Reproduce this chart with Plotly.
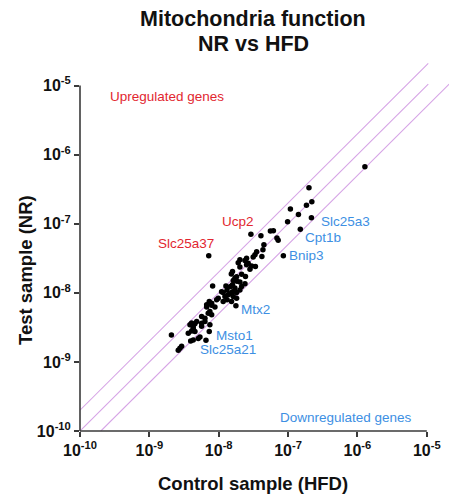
import numpy as np
import plotly.graph_objects as go

# ---------------- data ----------------
control_hfd = [
    1.28e-6, 2.00e-7, 2.20e-7, 1.84e-7, 1.08e-7, 1.41e-7, 2.17e-7, 9.84e-8, 1.50e-7,
    5.56e-8, 6.14e-8, 2.91e-8, 4.06e-8, 6.90e-8, 7.20e-8, 4.48e-8, 4.34e-8, 3.52e-8,
    3.33e-8, 3.14e-8, 4.19e-8, 8.55e-8, 7.18e-9, 2.52e-8, 2.02e-8, 2.39e-8, 1.91e-8,
    2.66e-8, 2.52e-8, 2.98e-8, 3.38e-8, 2.82e-8, 2.02e-8, 1.58e-8, 1.52e-8, 2.14e-8,
    1.81e-8, 2.43e-8, 1.71e-8, 1.62e-8, 1.83e-8, 2.02e-8, 2.39e-8, 2.14e-8, 1.58e-8,
    1.48e-8, 1.27e-8, 8.17e-9, 1.71e-8, 1.32e-8, 2.02e-8, 1.10e-8, 1.58e-8, 1.81e-8,
    1.16e-8, 1.45e-8, 1.37e-8, 1.23e-8, 1.62e-8, 1.81e-8, 9.84e-9, 9.33e-9, 1.32e-8,
    1.53e-8, 1.16e-8, 7.30e-9, 7.91e-9, 6.70e-9, 7.91e-9, 8.82e-9, 6.70e-9, 1.77e-8,
    7.46e-9, 7.06e-9, 7.91e-9, 5.67e-9, 6.33e-9, 4.81e-9, 6.33e-9, 4.07e-9, 4.54e-9,
    5.67e-9, 7.46e-9, 4.29e-9, 5.67e-9, 3.85e-9, 4.29e-9, 4.07e-9, 4.54e-9, 7.30e-9,
    3.64e-9, 5.36e-9, 5.07e-9, 4.29e-9, 3.94e-9, 2.08e-9, 2.92e-9, 2.76e-9, 2.61e-9,
    6.55e-9,
]
test_nr = [
    6.70e-7, 3.33e-7, 2.08e-7, 1.85e-7, 1.63e-7, 1.36e-7, 1.22e-7, 1.07e-7, 8.32e-8,
    7.83e-8, 7.92e-8, 7.05e-8, 6.70e-8, 6.21e-8, 5.77e-8, 4.97e-8, 4.20e-8, 3.93e-8,
    3.56e-8, 3.29e-8, 3.36e-8, 3.44e-8, 3.44e-8, 3.16e-8, 3.01e-8, 2.94e-8, 2.72e-8,
    2.69e-8, 2.55e-8, 2.44e-8, 2.40e-8, 2.20e-8, 2.36e-8, 2.04e-8, 1.88e-8, 1.85e-8,
    1.71e-8, 1.72e-8, 1.62e-8, 1.51e-8, 1.47e-8, 1.44e-8, 1.35e-8, 1.23e-8, 1.31e-8,
    1.23e-8, 1.26e-8, 1.26e-8, 1.17e-8, 1.10e-8, 1.10e-8, 1.04e-8, 1.04e-8, 1.01e-8,
    1.01e-8, 9.69e-9, 9.36e-9, 8.84e-9, 8.84e-9, 8.38e-9, 8.38e-9, 7.92e-9, 7.92e-9,
    7.48e-9, 7.48e-9, 7.48e-9, 7.09e-9, 6.70e-9, 6.59e-9, 6.21e-9, 6.21e-9, 6.48e-9,
    5.36e-9, 5.08e-9, 4.80e-9, 4.54e-9, 4.30e-9, 3.84e-9, 3.84e-9, 3.67e-9, 3.56e-9,
    3.64e-9, 3.44e-9, 3.32e-9, 3.27e-9, 3.44e-9, 3.06e-9, 2.81e-9, 2.75e-9, 2.75e-9,
    2.61e-9, 2.30e-9, 2.19e-9, 2.08e-9, 2.01e-9, 2.46e-9, 1.68e-9, 1.58e-9, 1.47e-9,
    2.05e-9,
]

# labelled genes (their points are part of the arrays above)
label_genes = ["Slc25a37", "Ucp2", "Slc25a3", "Cpt1b", "Bnip3", "Mtx2", "Msto1", "Slc25a21"]
label_x = [7.18e-9, 2.91e-8, 2.17e-7, 1.50e-7, 8.55e-8, 1.77e-8, 7.30e-9, 6.55e-9]
label_y = [3.44e-8, 7.05e-8, 1.22e-7, 8.32e-8, 3.44e-8, 6.48e-9, 2.75e-9, 2.05e-9]
label_dir = ["up", "up", "down", "down", "down", "down", "down", "down"]

tick_vals = [1e-10, 1e-9, 1e-8, 1e-7, 1e-6, 1e-5]
tick_text = ["10<sup>-10</sup>", "10<sup>-9</sup>", "10<sup>-8</sup>",
             "10<sup>-7</sup>", "10<sup>-6</sup>", "10<sup>-5</sup>"]

fold_change = 2.0

# ---------------- styling ----------------
RED = "#e2262f"
BLUE = "#3d8fe3"
LINE = "#d6a4e6"
AX = "#3a3a3a"
FONT = "Liberation Sans, Arial, Helvetica, sans-serif"

W, H = 450, 497
ML, MR, MT, MB = 80, 1, 60, 66
PW, PH = W - ML - MR, H - MT - MB
x_range = [-10, -4.68]
y_range = [-10, -4.63]


def paper_x(px):
    return (px - ML) / PW


def paper_y(py):
    return (H - MB - py) / PH


fig = go.Figure()

# guide lines: y = 2x, y = x, y = x/2
x_lo, x_hi = tick_vals[0], tick_vals[-1] * 1.05
for k, xs in [(fold_change, [x_lo, x_hi]), (1.0, [x_lo, x_hi]),
              (1.0 / fold_change, [x_lo * fold_change, x_hi * fold_change])]:
    xs = np.array(xs)
    fig.add_trace(go.Scatter(x=xs, y=xs * k, mode="lines",
                             line=dict(color=LINE, width=1.1),
                             hoverinfo="skip", showlegend=False))

fig.add_trace(go.Scatter(x=control_hfd, y=test_nr, mode="markers",
                         marker=dict(color="black", size=5.5),
                         showlegend=False, cliponaxis=False))

# axis lines only up to 10^-5
fx = (np.log10(tick_vals[-1]) - x_range[0]) / (x_range[1] - x_range[0])
fy = (np.log10(tick_vals[-1]) - y_range[0]) / (y_range[1] - y_range[0])
fig.add_shape(type="line", xref="paper", yref="paper", x0=0, x1=fx, y0=0, y1=0,
              line=dict(color=AX, width=1.6))
fig.add_shape(type="line", xref="paper", yref="paper", x0=0, x1=0, y0=0, y1=fy,
              line=dict(color=AX, width=1.6))

bold_ticks = ["<b>" + t + "</b>" for t in tick_text]
axis_common = dict(type="log", tickvals=tick_vals, ticktext=bold_ticks,
                   ticks="outside", ticklen=5, tickwidth=1.5, tickcolor=AX,
                   showline=False, showgrid=False, zeroline=False,
                   tickfont=dict(family=FONT, size=16, color="#111"))
fig.update_xaxes(range=x_range, **axis_common)
fig.update_yaxes(range=y_range, **axis_common)

# gene labels
offsets = {
    "Slc25a37": (-23, 12, "center"),
    "Ucp2": (-13, 13, "center"),
    "Slc25a3": (8, -4, "left"),
    "Cpt1b": (3, -8, "left"),
    "Bnip3": (4, 0, "left"),
    "Mtx2": (3, -4, "left"),
    "Msto1": (5, -4, "left"),
    "Slc25a21": (-8, -9, "left"),
}
for g, gx, gy, d in zip(label_genes, label_x, label_y, label_dir):
    dx, dy, anc = offsets[g]
    fig.add_annotation(x=np.log10(gx), y=np.log10(gy), xref="x", yref="y",
                       text=g, showarrow=False, xanchor=anc, yanchor="middle",
                       xshift=dx, yshift=dy,
                       font=dict(family=FONT, size=13.5, color=RED if d == "up" else BLUE))

fig.add_annotation(xref="paper", yref="paper", x=paper_x(108), y=paper_y(97),
                   text="Upregulated genes", showarrow=False, xanchor="left",
                   yanchor="middle", font=dict(family=FONT, size=13.5, color=RED))
fig.add_annotation(xref="paper", yref="paper", x=paper_x(414), y=paper_y(417),
                   text="Downregulated genes", showarrow=False, xanchor="right",
                   yanchor="middle", font=dict(family=FONT, size=13.5, color=BLUE))

# titles
fig.add_annotation(xref="paper", yref="paper", x=paper_x(253), y=paper_y(19),
                   text="<b>Mitochondria function</b>", showarrow=False,
                   xanchor="center", yanchor="middle",
                   font=dict(family=FONT, size=21.5, color="#111"))
fig.add_annotation(xref="paper", yref="paper", x=paper_x(253), y=paper_y(44),
                   text="<b>NR vs HFD</b>", showarrow=False,
                   xanchor="center", yanchor="middle",
                   font=dict(family=FONT, size=21.5, color="#111"))
fig.add_annotation(xref="paper", yref="paper", x=paper_x(253), y=paper_y(483),
                   text="<b>Control sample (HFD)</b>", showarrow=False,
                   xanchor="center", yanchor="middle",
                   font=dict(family=FONT, size=18.5, color="#111"))
fig.add_annotation(xref="paper", yref="paper", x=paper_x(25), y=paper_y(270),
                   text="<b>Test sample (NR)</b>", showarrow=False, textangle=-90,
                   xanchor="center", yanchor="middle",
                   font=dict(family=FONT, size=18.5, color="#111"))

fig.update_layout(width=W, height=H, margin=dict(l=ML, r=MR, t=MT, b=MB),
                  plot_bgcolor="white", paper_bgcolor="white", showlegend=False)

fig.write_html("out.html")
